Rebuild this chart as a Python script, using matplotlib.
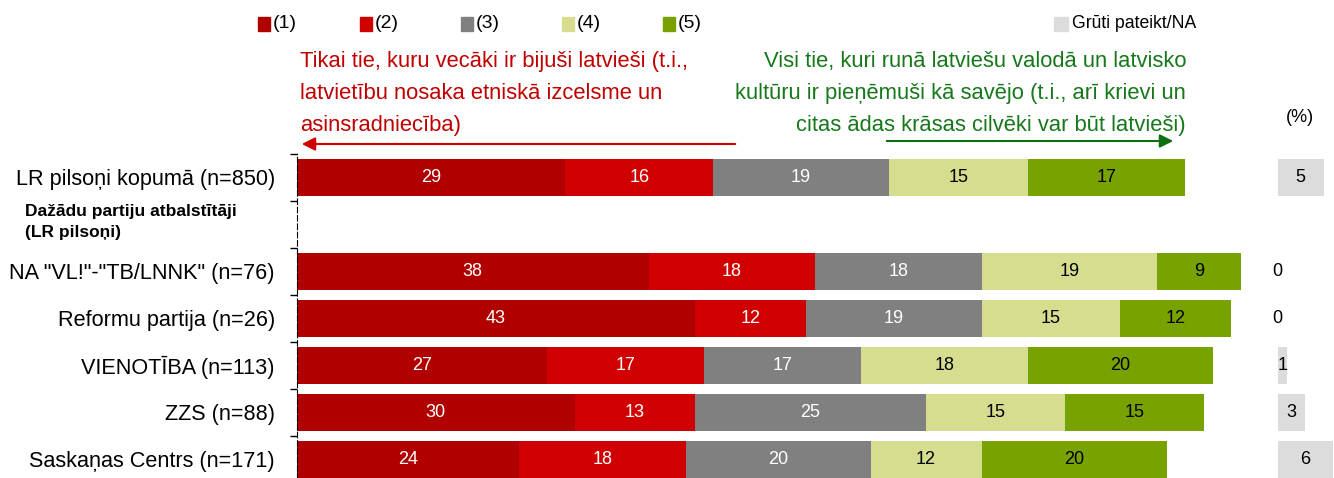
import matplotlib
matplotlib.use("Agg")
import matplotlib.pyplot as plt
from matplotlib.patches import Rectangle, FancyArrowPatch
import numpy as np

# dati
rows = ['LR pilsoņi kopumā (n=850)', 'NA "VL!"-"TB/LNNK" (n=76)', 'Reformu partija (n=26)',
        'VIENOTĪBA (n=113)', 'ZZS (n=88)', 'Saskaņas Centrs (n=171)']
v1 = [29, 38, 43, 27, 30, 24]
v2 = [16, 18, 12, 17, 13, 18]
v3 = [19, 18, 19, 17, 25, 20]
v4 = [15, 19, 15, 18, 15, 12]
v5 = [17, 9, 12, 20, 15, 20]
na = [5, 0, 0, 1, 3, 6]
series_names = ['(1)', '(2)', '(3)', '(4)', '(5)']
na_name = 'Grūti pateikt/NA'
group_label = 'Dažādu partiju atbalstītāji\n(LR pilsoņi)'

colors = ['#B00000', '#D00000', '#808080', '#D6DD8F', '#78A200']
na_color = '#DCDCDC'
text_colors = ['white', 'white', 'white', 'black', 'black']
red_txt = '#C00000'
green_txt = '#16781A'

plt.rcParams['font.family'] = ['Liberation Sans', 'DejaVu Sans']

W, H = 1334, 478
fig = plt.figure(figsize=(W / 100, H / 100), dpi=100)
ax = fig.add_axes([297 / W, -0.0096, 1037 / W, 329 / H])

ypos = np.array([0] + list(range(2, 2 + len(rows) - 1)))
data = [v1, v2, v3, v4, v5]
left = np.zeros(len(rows))
for vals, c, tc in zip(data, colors, text_colors):
    vals = np.array(vals)
    bars = ax.barh(ypos, vals, left=left, height=0.79, color=c, edgecolor='none')
    for b, v in zip(bars, vals):
        ax.text(b.get_x() + b.get_width() / 2, b.get_y() + b.get_height() / 2, str(v),
                ha='center', va='center', color=tc, fontsize=13)
    left += vals

na_start = 106
nab = ax.barh(ypos, na, left=na_start, height=0.79, color=na_color, edgecolor='none', clip_on=False)
for b, v in zip(nab, na):
    ax.text(b.get_x() + b.get_width() / 2, b.get_y() + b.get_height() / 2, str(v),
            ha='center', va='center', color='black', fontsize=13)

ax.set_xlim(0, 112.1)
ax.set_ylim(6.5, -0.5)
ax.set_xticks([])
ax.set_yticks(ypos)
ax.set_yticklabels(rows, fontsize=15.6)
ax.set_yticks(np.arange(-0.5, 6.6, 1), minor=True)
ax.tick_params(axis='y', which='major', length=0, pad=16)
ax.tick_params(axis='y', which='minor', length=5, width=1, color='black')
for s in ['top', 'right', 'bottom']:
    ax.spines[s].set_visible(False)
ax.spines['left'].set_linestyle((0, (5, 2.5)))
ax.spines['left'].set_color('black')

# grupas nosaukums
fig.text(25 / W, 1 - 222 / H, group_label, ha='left', va='center', fontsize=12.5,
         fontweight='bold', linespacing=1.45)

# leģenda
leg_x = [258, 360, 461, 562, 663]
for x, c, n in zip(leg_x, colors, series_names):
    fig.add_artist(Rectangle((x / W, 1 - 31 / H), 12 / W, 14 / H, color=c, transform=fig.transFigure))
    fig.text((x + 15) / W, 1 - 24 / H, n, ha='left', va='center', fontsize=14)
fig.add_artist(Rectangle((1054 / W, 1 - 31 / H), 14 / W, 14 / H, color=na_color, transform=fig.transFigure))
fig.text(1072 / W, 1 - 24 / H, na_name, ha='left', va='center', fontsize=12.7)

fig.text(1300 / W, 1 - 118 / H, '(%)', ha='center', va='center', fontsize=13)

# anotācijas
red_lines = ['Tikai tie, kuru vecāki ir bijuši latvieši (t.i.,',
             'latvietību nosaka etniskā izcelsme un',
             'asinsradniecība)']
green_lines = ['Visi tie, kuri runā latviešu valodā un latvisko',
               'kultūru ir pieņēmuši kā savējo (t.i., arī krievi un',
               'citas ādas krāsas cilvēki var būt latvieši)']
for i, (rl, gl) in enumerate(zip(red_lines, green_lines)):
    yb = 1 - (67 + 32 * i) / H
    fig.text(300 / W, yb, rl, ha='left', va='baseline', fontsize=15.8, color=red_txt)
    fig.text(1186 / W, yb, gl, ha='right', va='baseline', fontsize=15.8, color=green_txt)

fig.add_artist(FancyArrowPatch((738 / W, 1 - 144 / H), (299 / W, 1 - 144 / H),
               transform=fig.transFigure, arrowstyle='-|>', mutation_scale=20,
               color='#D00000', lw=1.5))
fig.add_artist(FancyArrowPatch((884 / W, 1 - 141 / H), (1176 / W, 1 - 141 / H),
               transform=fig.transFigure, arrowstyle='-|>', mutation_scale=20,
               color='#0E6E12', lw=1.5))

fig.savefig('out.png', dpi=100)
